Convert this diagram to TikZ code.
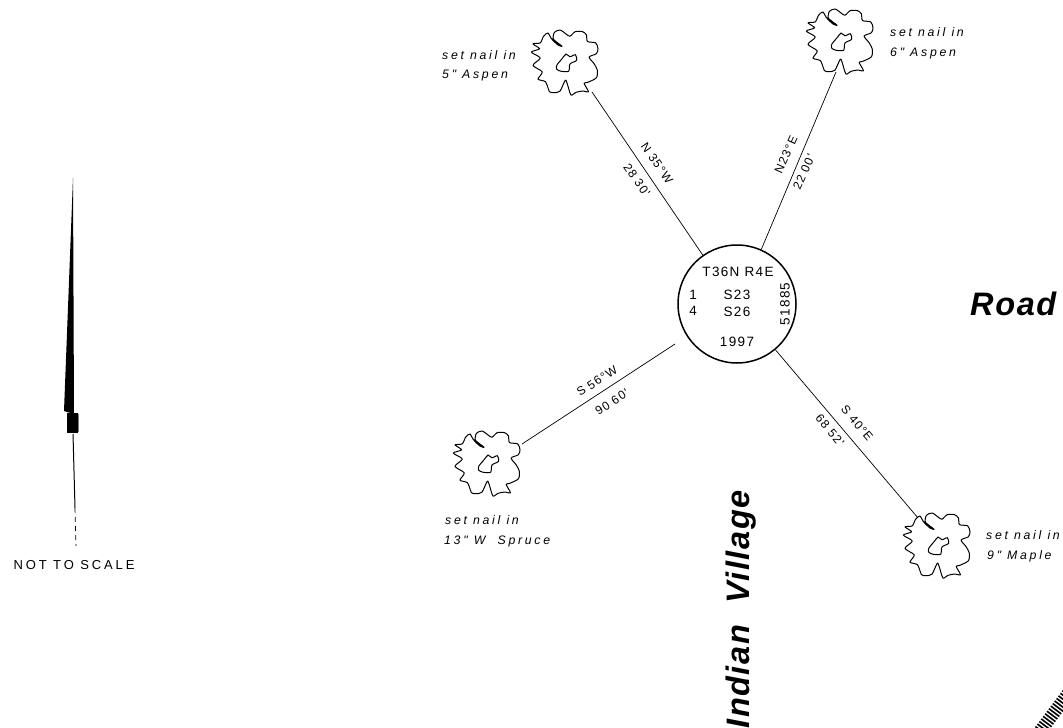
\documentclass[tikz,border=0pt]{standalone}
\usepackage{fontspec}
\setmainfont{Liberation Sans}
\newfontfamily\notefont[LetterSpace=22]{Liberation Sans}
\newfontfamily\markfont[LetterSpace=10]{Liberation Sans}
\newfontfamily\streetfont[LetterSpace=5]{Liberation Sans}
\usetikzlibrary{calc}
\tikzset{
	note/.style={font=\notefont\itshape\fontsize{12.3}{14}\selectfont, anchor=west, inner sep=0pt},
	bearing/.style={font=\markfont\fontsize{12}{14}\selectfont, inner sep=0pt},
	stamp/.style={font=\markfont\fontsize{13.5}{15}\selectfont, inner sep=0pt},
	street/.style={font=\streetfont\bfseries\itshape\fontsize{32.5}{35}\selectfont, inner sep=0pt},
	tie/.style={line width=0.7pt},
	tree/.pic={
		\draw[line width=1pt, line join=round] plot[smooth cycle, tension=0.45] coordinates {(-100,-55) (-78,-58) (-68,-78) (-55,-88) (-45,-72) (-25,-52) (-12,-48) (-38,-68) (-35,-90) (-18,-97) (0,-85) (12,-78) (28,-92) (50,-92) (62,-82) (65,-62) (90,-58) (97,-40) (92,-25) (70,-15) (85,5) (95,25) (92,48) (65,62) (55,65) (68,90) (50,88) (30,92) (15,100) (5,70) (-2,55) (-18,88) (-35,93) (-50,90) (-62,60) (-85,52) (-72,30) (-100,10) (-78,-12) (-105,-30) (-80,-40)};
		\draw[line width=1pt] plot[smooth cycle, tension=0.45] coordinates {(-28,10) (-12,-10) (0,-24) (12,-16) (28,-22) (32,-5) (12,6) (8,28) (-15,28) (-28,22)};
		\draw[line width=1.8pt] (-40,-68)--(-18,-50);
	}
}
\begin{document}
\begin{tikzpicture}[x=1pt,y=-1pt]
	\useasboundingbox (0,0) rectangle (1063,728);
	\coordinate (tip) at (73,178);
	\coordinate (barbR) at (74,414);
	\coordinate (barbL) at (64,411);
	\coordinate (tailA) at (73,434);
	\coordinate (tailB) at (75,508);
	\coordinate (tailC) at (76,546);
	\coordinate (nwEnd) at (592,92);
	\coordinate (neEnd) at (836,72);
	\coordinate (swStart) at (675,344);
	\coordinate (swEnd) at (522,444);
	\coordinate (seEnd) at (918,518);
	% north arrow
	\fill (tip)--(barbR)--(barbL)--cycle;
	\fill (67,413) rectangle (78,433);
	\node[font=\bfseries\fontsize{26}{26}\selectfont, xscale=0.75, inner sep=0pt] (north) at (73,424) {N};
	\draw[line width=1pt] (tailA)--(tailB);
	\draw[line width=0.7pt, dash pattern=on 5pt off 4pt] (tailB)--(tailC);
	\node[font=\notefont\fontsize{13}{15}\selectfont, inner sep=0pt] (scale) at (74,565) {NOT TO SCALE};
	% monument
	\node[circle, draw, line width=1.5pt, minimum size=118pt, inner sep=0pt] (mon) at (737,304) {};
	\node[stamp] (twp) at (738,272) {T36N R4E};
	\node[stamp] (secA) at (737,295) {S23};
	\node[stamp] (secB) at (737,312) {S26};
	\node[stamp] (year) at (737,342) {1997};
	\node[stamp] (fracA) at (693,295) {1};
	\node[stamp] (fracB) at (693,311) {4};
	\node[stamp, rotate=90] (lic) at (785,304) {51885};
	% trees
	\pic[scale=0.33] at (566,62) {tree};
	\pic[scale=0.33] at (841,41) {tree};
	\pic[scale=0.33] at (488,463) {tree};
	\pic[scale=0.33] at (938,545) {tree};
	% ties
	\draw[tie] (mon.125)--(nwEnd);
	\draw[tie] (mon.66)--(neEnd);
	\draw[tie] (swStart)--(swEnd);
	\draw[tie] (mon.-50)--(seEnd);
	\node[bearing, rotate=-55] (nwA) at (657,163) {N 35°W};
	\node[bearing, rotate=-55] (nwB) at (637,180) {28 30'};
	\node[bearing, rotate=66] (neA) at (786,155) {N23°E};
	\node[bearing, rotate=66] (neB) at (804,172) {22 00'};
	\node[bearing, rotate=33] (swA) at (597,381) {S 56°W};
	\node[bearing, rotate=33] (swB) at (612,402) {90 60'};
	\node[bearing, rotate=-50] (seA) at (857,423) {S 40°E};
	\node[bearing, rotate=-50] (seB) at (830,430) {68 52'};
	% tree notes
	\node[note] (noteA) at (442,55) {set nail in};
	\node[note] (noteB) at (442,76) {5" Aspen};
	\node[note] (noteC) at (890,32) {set nail in};
	\node[note] (noteD) at (890,53) {6" Aspen};
	\node[note] (noteE) at (445,520) {set nail in};
	\node[note] (noteF) at (444,541) {13" W\ \ Spruce};
	\node[note] (noteG) at (986,535) {set nail in};
	\node[note] (noteH) at (987,556) {9" Maple};
	% roads
	\node[street, anchor=west] (road) at (970,304) {Road};
	\node[street, rotate=90, anchor=east] (village) at (741,490) {Indian\ \ Village};
	\draw[line width=13pt, dash pattern=on 1.6pt off 1.6pt] (1068,694)--(1038,734);
\end{tikzpicture}
\end{document}
